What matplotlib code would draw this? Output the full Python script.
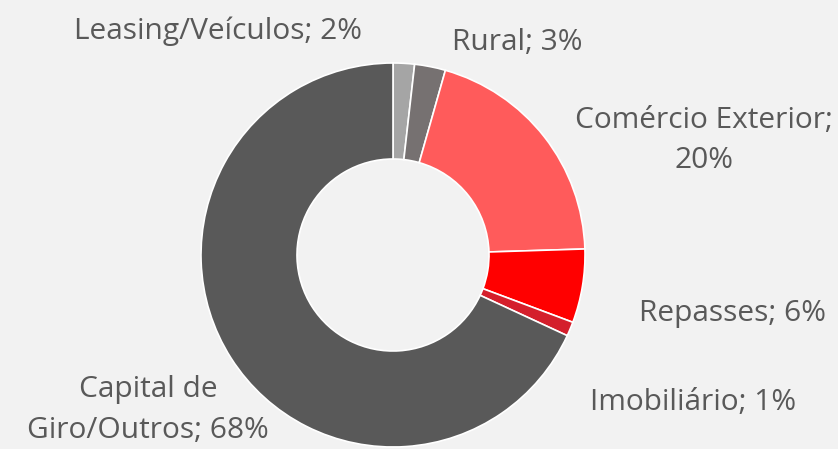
import matplotlib.pyplot as plt

categorias = ['Leasing/Veículos', 'Rural', 'Comércio Exterior', 'Repasses', 'Imobiliário', 'Capital de Giro/Outros']
valores = [1.8, 2.6, 20.1, 6.2, 1.2, 68.1]
rotulos = ['Leasing/Veículos; 2%', 'Rural; 3%', 'Comércio Exterior;\n20%', 'Repasses; 6%',
           'Imobiliário; 1%', 'Capital de\nGiro/Outros; 68%']
cores = ['#A5A5A5', '#767171', '#FF5B5B', '#FF0000', '#D41F2C', '#595959']

W, H = 838, 449
fig = plt.figure(figsize=(W / 100, H / 100), dpi=100)
fig.patch.set_facecolor('#F2F2F2')
ax = fig.add_axes([0, 0, 1, 1])
ax.set_facecolor('#F2F2F2')

ax.pie(valores, colors=cores, startangle=90, counterclock=False,
       center=(393, H - 255), radius=192,
       wedgeprops=dict(width=96, edgecolor='white', linewidth=1.2))
ax.set_xlim(0, W)
ax.set_ylim(0, H)
ax.set_aspect('auto')
ax.axis('off')

# posicoes dos rotulos (pixels)
pos = [(218, 31), (517, 43), (704, 141), (732, 313), (693, 403), (148, 410)]
for txt, (x, y) in zip(rotulos, pos):
    ax.text(x, H - y, txt, ha='center', va='center', fontsize=21.5, color='#595959',
            family='Open Sans', linespacing=1.5)

plt.savefig('out.png', dpi=100, facecolor=fig.get_facecolor())
